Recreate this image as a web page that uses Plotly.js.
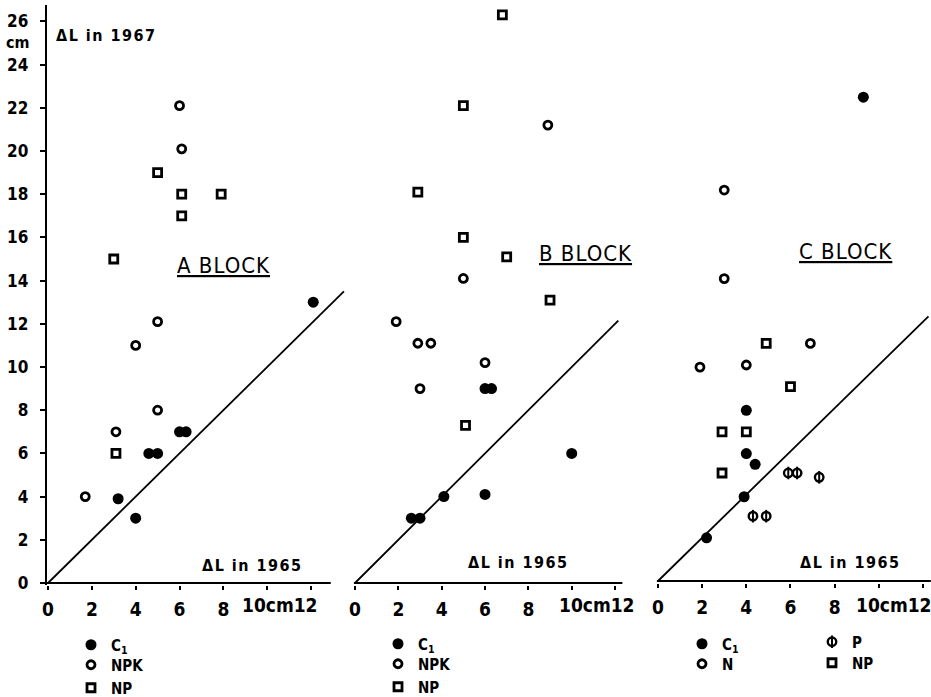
<!DOCTYPE html>
<html>
<head>
<meta charset="utf-8">
<script src="https://cdn.plot.ly/plotly-3.0.1.min.js"></script>
<style>html,body{margin:0;padding:0;background:#fff}</style>
</head>
<body>
<div id="chart" style="width:931px;height:697px"></div>
<script>
// Length increment in 1965 (x) against length increment in 1967 (y), cm

// A block
const aC1x  = [3.2, 4.0, 4.6, 5.0, 6.0, 6.3, 12.1];
const aC1y  = [3.9, 3.0, 6.0, 6.0, 7.0, 7.0, 13.0];
const aNPKx = [1.7, 3.1, 4.0, 5.0, 5.0, 6.0, 6.1];
const aNPKy = [4.0, 7.0, 11.0, 12.1, 8.0, 22.1, 20.1];
const aNPx  = [3.1, 3.0, 5.0, 6.1, 6.1, 7.9];
const aNPy  = [6.0, 15.0, 19.0, 18.0, 17.0, 18.0];

// B block
const bC1x  = [2.6, 3.0, 4.1, 6.0, 6.0, 6.3, 10.0];
const bC1y  = [3.0, 3.0, 4.0, 4.1, 9.0, 9.0, 6.0];
const bNPKx = [1.9, 2.9, 3.5, 3.0, 6.0, 5.0, 8.9];
const bNPKy = [12.1, 11.1, 11.1, 9.0, 10.2, 14.1, 21.2];
const bNPx  = [5.1, 2.9, 5.0, 6.8, 5.0, 7.0, 9.0];
const bNPy  = [7.3, 18.1, 22.1, 26.3, 16.0, 15.1, 13.1];

// C block
const cC1x = [2.2, 3.9, 4.0, 4.4, 4.0, 9.3];
const cC1y = [2.0, 3.9, 5.9, 5.4, 7.9, 22.4];
const cNx  = [1.9, 4.0, 6.9, 3.0, 3.0];
const cNy  = [9.9, 10.0, 11.0, 18.1, 14.0];
const cNPx = [2.9, 2.9, 4.0, 4.9, 6.0];
const cNPy = [5.0, 6.9, 6.9, 11.0, 9.0];
const cPx  = [4.3, 4.9, 5.9, 6.3, 7.3];
const cPy  = [3.0, 3.0, 5.0, 5.0, 4.8];

// 1:1 reference lines (equal growth in both years)
const diagA = [0, 13.5];
const diagB = [0, 12.15];
const diagC = [0, 12.25];

// axis ticks
const xTickVals = [0, 2, 4, 6, 8, 10, 12];
const xTickText = ['0', '2', '4', '6', '8', '', ''];
const yTickVals = [0, 2, 4, 6, 8, 10, 12, 14, 16, 18, 20, 22, 24, 26];

// ---------------------------------------------------------------
const W = 931, H = 697;
const fx = p => p / W;
const fy = p => (H - p) / H;
const NARROW = '"Liberation Sans Narrow", "DejaVu Sans Condensed", "Arial Narrow", sans-serif';
const BLACK = '#000';

// panel geometry: pixel of the origin, pixels per cm, axis extents
function xDomain(origin, ppu, lo, hi) {
  return [fx(origin + lo * ppu), Math.min(1, fx(origin + hi * ppu))];
}
function yDomain(origin, ppu, lo, hi) {
  return [fy(origin - lo * ppu), fy(origin - hi * ppu)];
}
const X_LO = -0.06, Y_LO = -0.08;
const pA = {x0: 48,  xppu: 21.92, xhi: 13.6,  y0: 583, yppu: 21.6, yhi: 26.76, axisEnd: 12.9};
const pB = {x0: 355, xppu: 21.67, xhi: 12.35, y0: 583, yppu: 21.6, yhi: 26.76, axisEnd: 12.35};
const pC = {x0: 658, xppu: 22.08, xhi: 12.36, y0: 581, yppu: 21.6, yhi: 26.67, axisEnd: 12.36};

const tickFont = {family: NARROW, size: 19, color: BLACK, weight: 'bold'};
const ytickFont = {family: NARROW, size: 17, color: BLACK, weight: 'bold'};
const legFont = {family: NARROW, size: 15, color: BLACK, weight: 'bold'};

function xAxis(p, yname) {
  return {
    domain: xDomain(p.x0, p.xppu, X_LO, p.xhi), range: [X_LO, p.xhi], anchor: yname,
    tickmode: 'array', tickvals: xTickVals, ticktext: xTickText,
    ticks: 'outside', ticklen: 4, tickwidth: 2, tickcolor: BLACK,
    tickfont: tickFont, ticklabelstandoff: 3,
    showgrid: false, zeroline: false, showline: false, fixedrange: true
  };
}
function yAxisHidden(p, xname) {
  return {
    domain: yDomain(p.y0, p.yppu, Y_LO, p.yhi), range: [Y_LO, p.yhi], anchor: xname,
    showticklabels: false, ticks: '', showgrid: false, zeroline: false, showline: false, fixedrange: true
  };
}

const filled = {symbol: 'circle', size: 11, color: BLACK};
const openC  = {symbol: 'circle-open', size: 8, color: BLACK, line: {width: 2.8, color: BLACK}};
const openSq = {symbol: 'square-open', size: 8, color: BLACK, line: {width: 2.8, color: BLACK}};
const pRing  = {symbol: 'circle-open', size: 8.5, color: BLACK, line: {width: 2.4, color: BLACK}};
const pBar   = {symbol: 'line-ns-open', size: 9, color: BLACK, line: {width: 2, color: BLACK}};

function pts(x, y, xa, ya, marker, name, legend, show) {
  return {type: 'scatter', mode: 'markers', x: x, y: y, xaxis: xa, yaxis: ya,
          marker: marker, name: name, legend: legend, showlegend: show !== false,
          cliponaxis: false, hoverinfo: 'x+y'};
}
function diag(d, xa, ya) {
  return {type: 'scatter', mode: 'lines', x: d, y: d, xaxis: xa, yaxis: ya,
          line: {color: BLACK, width: 1.8}, showlegend: false, hoverinfo: 'skip'};
}

const data = [
  diag(diagA, 'x', 'y'), diag(diagB, 'x2', 'y2'), diag(diagC, 'x3', 'y3'),
  pts(aC1x, aC1y, 'x', 'y', filled, 'C<sub>1</sub>', 'legend'),
  pts(aNPKx, aNPKy, 'x', 'y', openC, 'NPK', 'legend2'),
  pts(aNPx, aNPy, 'x', 'y', openSq, 'NP', 'legend3'),
  pts(bC1x, bC1y, 'x2', 'y2', filled, 'C<sub>1</sub>', 'legend4'),
  pts(bNPKx, bNPKy, 'x2', 'y2', openC, 'NPK', 'legend5'),
  pts(bNPx, bNPy, 'x2', 'y2', openSq, 'NP', 'legend6'),
  pts(cC1x, cC1y, 'x3', 'y3', filled, 'C<sub>1</sub>', 'legend7'),
  pts(cNx, cNy, 'x3', 'y3', openC, 'N', 'legend8'),
  pts(cPx, cPy, 'x3', 'y3', pRing, 'P', 'legend9'),
  pts(cPx, cPy, 'x3', 'y3', pBar, ' ', 'legend11'),
  pts(cNPx, cNPy, 'x3', 'y3', openSq, 'NP', 'legend10')
];

// one legend per entry, placed under its panel (symbol centre at sx, row centre at sy)
function leg(sx, sy) {
  return {x: fx(sx - 20), y: fy(sy), xanchor: 'left', yanchor: 'middle',
          bgcolor: 'rgba(0,0,0,0)', borderwidth: 0, font: legFont, itemclick: false, itemdoubleclick: false};
}

function note(text, x, y, font, opts) {
  return Object.assign({text: text, x: x, y: y, xref: 'paper', yref: 'paper',
    showarrow: false, font: font, xanchor: 'center', yanchor: 'middle'}, opts || {});
}
const labFont = {family: NARROW, size: 16, color: BLACK, weight: 'bold'};
const cmFont = {family: NARROW, size: 16, color: BLACK, weight: 'bold'};
const blockFont = {family: NARROW, size: 22, color: BLACK};
const spaced = t => '<span style="letter-spacing:1.5px">' + t + '</span>';
const block = t => '<span style="text-decoration:underline;letter-spacing:1px">' + t + '</span>';

const annotations = [
  note(spaced('ΔL in 1967'), fx(54), fy(36), labFont, {xanchor: 'left'}),
  note('cm', fx(32), fy(42), cmFont, {xanchor: 'right'}),
  note(spaced('ΔL in 1965'), fx(200), fy(565), labFont, {xanchor: 'left'}),
  note(spaced('ΔL in 1965'), fx(466), fy(562), labFont, {xanchor: 'left'}),
  note(spaced('ΔL in 1965'), fx(798), fy(562), labFont, {xanchor: 'left'}),
  note('10cm12', 10.6, fy(605), tickFont, {xref: 'x'}),
  note('10cm12', 11.15, fy(605), tickFont, {xref: 'x2'}),
  note('10cm12', 10.7, fy(605), tickFont, {xref: 'x3'}),
  note(block('A BLOCK'), fx(175), fy(265), blockFont, {xanchor: 'left'}),
  note(block('B BLOCK'), fx(537), fy(253), blockFont, {xanchor: 'left'}),
  note(block('C BLOCK'), fx(797), fy(251), blockFont, {xanchor: 'left'})
];

// x-axis baselines, drawn in data units along y = 0
function baseline(p, xa, ya) {
  return {type: 'line', xref: xa, yref: ya, x0: X_LO, x1: p.axisEnd, y0: 0, y1: 0,
          line: {color: BLACK, width: 2}, layer: 'above'};
}

const layout = {
  width: W, height: H,
  margin: {l: 0, r: 0, t: 0, b: 0, pad: 0, autoexpand: false},
  paper_bgcolor: '#fff', plot_bgcolor: 'rgba(0,0,0,0)',
  showlegend: true,
  xaxis: xAxis(pA, 'y'),
  yaxis: {
    domain: yDomain(pA.y0, pA.yppu, Y_LO, pA.yhi), range: [Y_LO, pA.yhi], anchor: 'x',
    tickmode: 'array', tickvals: yTickVals,
    ticks: 'outside', ticklen: 5, tickwidth: 2, tickcolor: BLACK,
    tickfont: ytickFont, ticklabelstandoff: 8,
    showline: true, linewidth: 2, linecolor: BLACK,
    showgrid: false, zeroline: false, fixedrange: true
  },
  xaxis2: xAxis(pB, 'y2'),
  yaxis2: yAxisHidden(pB, 'x2'),
  xaxis3: xAxis(pC, 'y3'),
  yaxis3: yAxisHidden(pC, 'x3'),
  legend: leg(91, 645), legend2: leg(91, 665), legend3: leg(91, 688),
  legend4: leg(398, 644), legend5: leg(398, 664), legend6: leg(398, 687),
  legend7: leg(702, 644), legend8: leg(702, 664),
  legend9: leg(832, 642), legend11: leg(832, 642), legend10: leg(832, 663),
  shapes: [baseline(pA, 'x', 'y'), baseline(pB, 'x2', 'y2'), baseline(pC, 'x3', 'y3')],
  annotations: annotations
};

Plotly.newPlot('chart', data, layout, {displayModeBar: false, staticPlot: true});
</script>
</body>
</html>
